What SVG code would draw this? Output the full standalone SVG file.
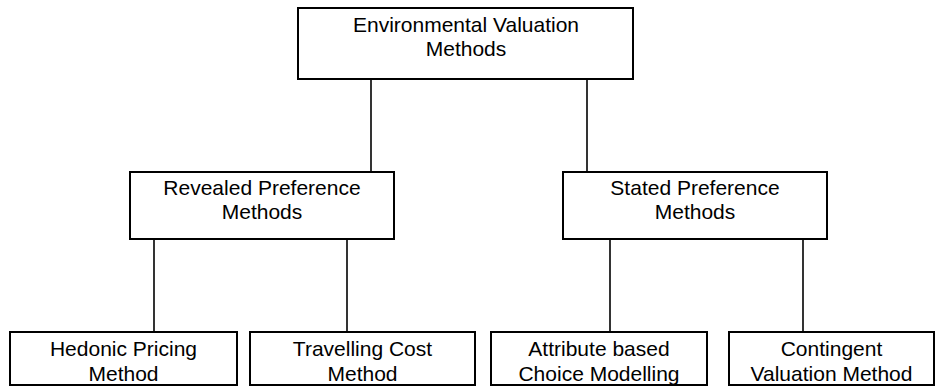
<svg xmlns="http://www.w3.org/2000/svg" width="936" height="387" viewBox="0 0 936 387">
<style>
.box{fill:#fff;stroke:#000;stroke-width:2}
.lbl{font-family:"Liberation Sans",Arial,Helvetica,sans-serif;font-size:21px;fill:#000;text-anchor:middle}
.edge{stroke:#000;stroke-width:1.6;fill:none}
</style>
<rect width="936" height="387" fill="#fff"/>
<g id="connectors">
<line class="edge" x1="371" y1="79" x2="371" y2="172"/>
<line class="edge" x1="587" y1="79" x2="587" y2="172"/>
<line class="edge" x1="154" y1="239" x2="154" y2="332"/>
<line class="edge" x1="347" y1="239" x2="347" y2="332"/>
<line class="edge" x1="610" y1="239" x2="610" y2="332"/>
<line class="edge" x1="803" y1="239" x2="803" y2="332"/>
</g>
<g id="n-env">
<rect class="box" x="298" y="8" width="335" height="71"/>
<text class="lbl" x="466" y="32">Environmental Valuation</text>
<text class="lbl" x="466" y="56">Methods</text>
</g>
<g id="n-revealed">
<rect class="box" x="130" y="172" width="264" height="67"/>
<text class="lbl" x="262" y="195">Revealed Preference</text>
<text class="lbl" x="262" y="219">Methods</text>
</g>
<g id="n-stated">
<rect class="box" x="563" y="172" width="264" height="67"/>
<text class="lbl" x="695" y="195">Stated Preference</text>
<text class="lbl" x="695" y="219">Methods</text>
</g>
<g id="n-hedonic">
<rect class="box" x="10" y="332" width="227" height="53"/>
<text class="lbl" x="123.5" y="356">Hedonic Pricing</text>
<text class="lbl" x="123.5" y="381">Method</text>
</g>
<g id="n-travel">
<rect class="box" x="250" y="332" width="225" height="53"/>
<text class="lbl" x="362.5" y="356">Travelling Cost</text>
<text class="lbl" x="362.5" y="381">Method</text>
</g>
<g id="n-attribute">
<rect class="box" x="491" y="332" width="216" height="53"/>
<text class="lbl" x="599" y="356">Attribute based</text>
<text class="lbl" x="599" y="381">Choice Modelling</text>
</g>
<g id="n-contingent">
<rect class="box" x="729" y="332" width="205" height="53"/>
<text class="lbl" x="831.5" y="356">Contingent</text>
<text class="lbl" x="831.5" y="381">Valuation Method</text>
</g>
</svg>
